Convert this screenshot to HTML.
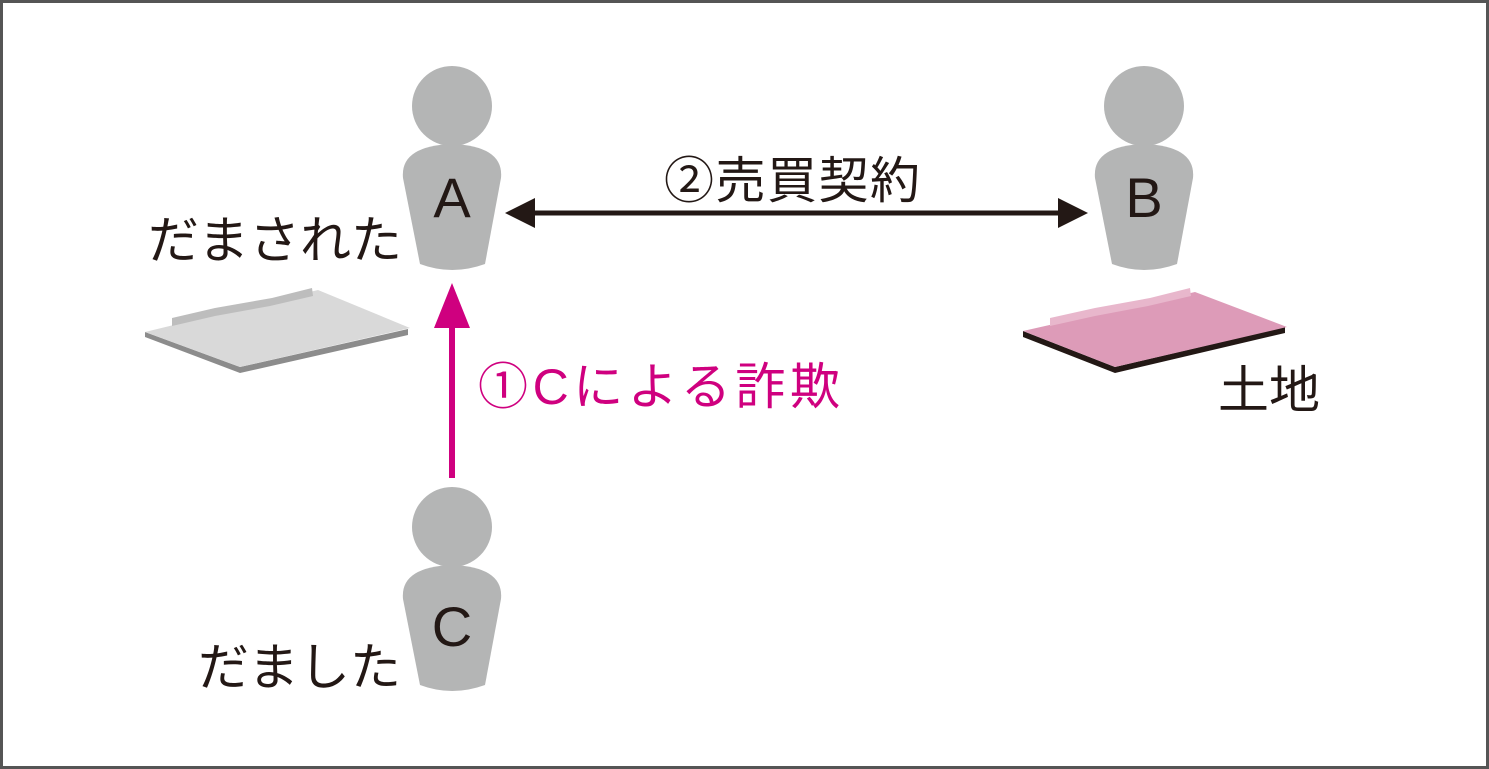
<!DOCTYPE html>
<html><head><meta charset="utf-8"><style>
body{margin:0;background:#fff}
svg{display:block}
text{font-family:"Liberation Sans","Noto Sans CJK JP",sans-serif;fill:#231815}
</style></head><body>
<svg width="1489" height="769" viewBox="0 0 1489 769">
<rect x="1.5" y="1.5" width="1486" height="766" fill="#fff" stroke="#555" stroke-width="3"/>
<defs>
<g id="p">
<circle cx="0" cy="0" r="40" fill="#b4b5b5"/>
<path d="M-49,72 Q-52,40 0,38 Q52,40 49,72 L33,158 Q0,170 -32,158 Z" fill="#b4b5b5"/>
</g>
</defs>
<use href="#p" x="452" y="106"/>
<use href="#p" x="1144" y="106"/>
<use href="#p" x="452" y="527"/>
<text x="452" y="217" font-size="56" text-anchor="middle">A</text>
<text x="1144" y="217" font-size="56" text-anchor="middle">B</text>
<text x="452" y="646" font-size="56" text-anchor="middle">C</text>
<text x="148" y="258" font-size="51">だまされた</text>
<text x="198" y="685" font-size="51">だました</text>
<text x="1218" y="408" font-size="51">土地</text>
<text x="664" y="198" font-size="50" textLength="256">②売買契約</text>
<text x="478" y="404" font-size="50" textLength="362" style="fill:#cf007f">①Cによる詐欺</text>
<line x1="530" y1="213" x2="1062" y2="213" stroke="#231815" stroke-width="5"/>
<polygon points="505,213 535,198 535,228" fill="#231815"/>
<polygon points="1088,213 1058,198 1058,228" fill="#231815"/>
<line x1="452" y1="478" x2="452" y2="315" stroke="#cf007f" stroke-width="6"/>
<polygon points="452,283 434,328 470,328" fill="#cf007f"/>
<polygon points="145,337 240,373 408,335 408,329 240,367 145,332" fill="#8c8c8c"/>
<polygon points="145,332 318,290 410,328 240,367" fill="#d9d9d9"/>
<path d="M172,318 L215,308 L272,298 L312,288 L313,296 L270,306 L215,316 L172,326 Z" fill="#bdbdbd"/>
<polygon points="1023,337 1115,373 1285,333 1285,327 1115,367 1023,331" fill="#231815"/>
<polygon points="1023,331 1195,292 1287,327 1115,367" fill="#dd9bb8"/>
<path d="M1050,318 L1095,308 L1150,298 L1190,288 L1191,296 L1148,306 L1095,316 L1050,326 Z" fill="#e8b7cc"/>
</svg>
</body></html>
